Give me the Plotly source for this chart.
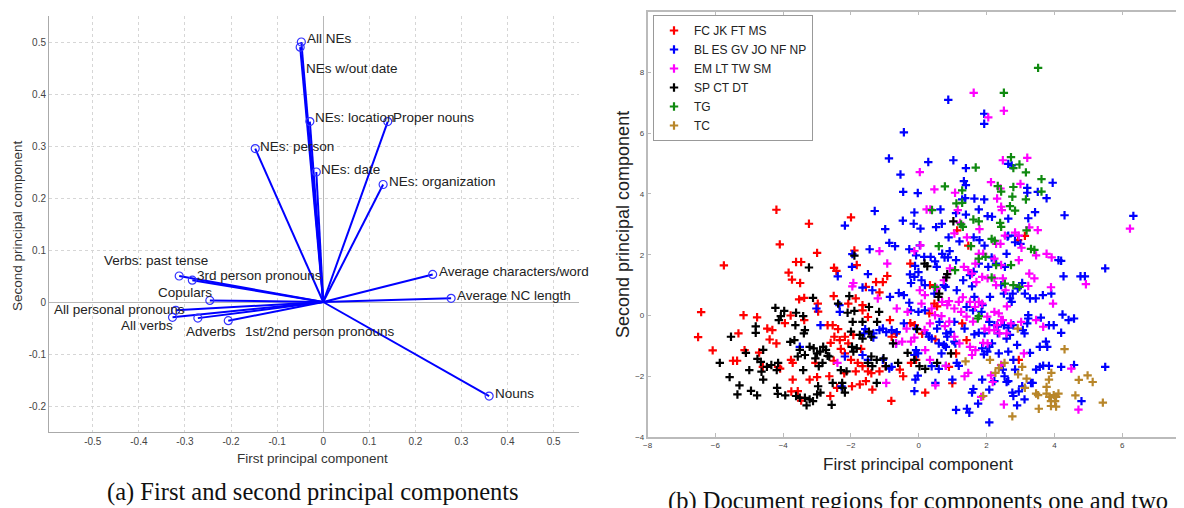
import plotly.graph_objects as go

# ---------------- Left panel: PCA loadings (biplot) ----------------
var_names = ["All NEs", "NEs w/out date", "NEs: location", "Proper nouns", "NEs: person",
             "NEs: date", "NEs: organization", "Average characters/word", "Average NC length",
             "Nouns", "Verbs: past tense", "3rd person pronouns", "Copulars",
             "All personal pronouns", "All verbs", "Adverbs", "1st/2nd person pronouns"]
pc1 = [-0.0475, -0.050, -0.029, 0.140, -0.1475, -0.015, 0.130, 0.2375, 0.2775,
       0.360, -0.3125, -0.284, -0.246, -0.320, -0.327, -0.272, -0.206]
pc2 = [0.500, 0.490, 0.347, 0.347, 0.295, 0.250, 0.226, 0.053, 0.007,
       -0.181, 0.050, 0.042, 0.003, -0.016, -0.0295, -0.031, -0.036]

left_ticks = [-0.5, -0.4, -0.3, -0.2, -0.1, 0, 0.1, 0.2, 0.3, 0.4, 0.5]
left_ticktext = ["-0.5", "-0.4", "-0.3", "-0.2", "-0.1", "0", "0.1", "0.2", "0.3", "0.4", "0.5"]
left_yticks = [-0.2, -0.1, 0, 0.1, 0.2, 0.3, 0.4, 0.5]
left_yticktext = ["-0.2", "-0.1", "0", "0.1", "0.2", "0.3", "0.4", "0.5"]

# label placement (style): anchor, x shift, y shift in px
label_style = [("left", 4, 3), ("left", 4, -21), ("left", 3, 4), ("left", 3, 4), ("left", 3, 2),
               ("left", 3, 3), ("left", 4, 3), ("left", 4, 3), ("left", 4, 3),
               ("left", 4, 3), ("right", 31, 16), ("left", 3, 5), ("right", 4, 8),
               ("right", 11, 1), ("right", 2, -8), ("left", -14, -13), ("left", 15, -11)]

# ---------------- Right panel: document scores ----------------
red_pts = [(-4.2,3.48),(-3.24,3.02),(-2.0,3.23),(-4.1,2.34),(-3.0,2.06),(-5.75,1.65),(-1.9,2.14),
 (-3.62,1.76),(-3.47,1.76),(-3.84,1.41),(-3.74,1.18),(-3.5,1.07),(-2.5,1.57),(-2.43,1.47),(-1.83,1.66),
 (-6.42,0.11),(-6.51,-0.71),(-6.08,-1.15),(-5.17,0.01),(-4.77,-0.06),(-5.32,-0.59),(-5.14,-1.14),
 (-5.48,-1.49),(-5.36,-1.49),(-4.6,-1.69),(-4.47,-0.43),(-4.32,-0.48),(-4.4,-0.79),(-4.2,-0.92),
 (-4.71,-1.22),(-4.15,-1.69),(-4.09,-1.75),(-3.78,0.0),(-3.95,-0.25),(-3.77,-1.46),(-3.72,-1.56),
 (-3.72,-2.11),(-3.76,-2.5),(-3.57,-2.49),(-3.47,-2.8),(-3.22,-2.11),(-3.05,-1.56),(-3.0,-2.03),
 (-2.64,-2.0),(-2.51,-1.49),(-2.61,-2.65),(-2.41,-2.38),(-3.53,0.53),(-3.38,0.58),(-2.98,0.39),
 (-2.51,0.64),(-2.97,0.13),(-3.38,-0.15),(-2.69,-0.32),(-2.54,-0.32),(-2.38,-0.45),(-2.49,-0.7),
 (-2.33,-0.81),(-2.18,-0.7),(-2.08,-0.92),(-1.93,-0.64),(-2.18,-1.25),(-2.0,-1.46),(-1.8,-1.56),
 (-1.86,-1.84),(-1.66,-1.67),(-1.5,-1.84),(-1.56,-2.16),(-1.37,-2.44),(-1.74,-2.27),(-1.97,-2.33),
 (-1.16,-1.84),(-0.98,-1.67),(-1.86,0.56),(-1.66,0.34),(-1.66,0.17),(-1.5,-0.05),(-1.16,0.76),
 (-1.26,1.1),(-1.06,1.1),(-0.93,1.3),(-1.56,0.94),(-2.08,0.39),(-0.85,-0.15),(-0.8,-0.7),(-0.67,-0.6),
 (-0.56,-1.78),(-0.46,-2.0),(-0.81,-2.81),(-0.23,-1.56),(-0.08,-1.46),(-0.25,-0.25),(-0.12,-0.32),
 (0.1,-0.6),(0.19,-2.54),(0.31,0.07),(0.46,0.39),(0.54,0.3),(0.49,-0.79),(1.1,-1.25),(0.99,-2.23),
 (0.89,-1.69),(1.13,2.8),(1.46,2.3),(1.41,-0.81),(1.28,-0.26),(2.95,-1.46),(2.93,2.48),(3.13,2.62),
 (-0.25,1.71),(0.33,1.0),(-2.3,-1.1),(-2.6,-0.9),(-1.7,-1.1),(-1.4,-1.9),(-2.2,-1.9)]

blue_pts = [(-0.44,6.03),(0.87,7.1),(1.93,6.64),(1.93,6.31),(-0.88,5.17),(-0.54,4.64),(-0.46,4.07),
 (0.28,5.05),(1.02,5.11),(1.39,4.85),(1.33,4.42),(1.39,4.29),(1.37,3.86),(1.28,3.82),(-1.3,3.44),
 (-2.18,2.96),(-0.99,2.84),(-0.47,3.12),(-0.13,3.39),(-0.03,4.03),(-0.15,3.02),(0.05,2.86),(0.51,2.91),
 (0.64,3.49),(0.68,3.02),(1.1,3.37),(1.39,3.32),(1.64,3.85),(1.93,3.82),(1.77,3.49),(2.03,3.27),
 (2.16,3.25),(2.64,3.19),(2.64,4.99),(2.74,4.94),(3.2,4.2),(3.2,4.04),(3.51,4.07),(3.95,4.37),
 (3.77,3.86),(3.43,3.4),(3.23,3.2),(4.3,3.3),(6.33,3.28),(5.5,1.55),(4.77,1.29),(4.9,1.29),(4.27,1.29),
 (4.12,1.82),(4.2,1.8),(3.45,0.56),(3.66,0.67),(3.91,0.72),(3.6,-0.07),(3.84,-0.32),(3.98,-0.32),
 (4.24,0.03),(4.42,-0.15),(4.58,-0.1),(4.2,-0.57),(3.75,-0.86),(3.79,-1.03),(3.57,-1.03),(3.28,-1.23),
 (3.46,-1.78),(3.57,-1.69),(3.67,-1.65),(3.84,-1.66),(4.2,-1.69),(4.58,-1.63),(5.5,-1.69),(4.8,-2.82),
 (3.31,-2.22),(3.12,-2.76),(3.05,-2.33),(2.95,-2.5),(2.9,-2.96),(2.79,-2.65),(2.76,-2.54),(2.64,-2.16),
 (2.53,-2.0),(2.48,-1.78),(2.79,-1.46),(2.84,-1.78),(2.64,-1.19),(2.59,-0.76),(2.36,-1.25),(2.23,-2.16),
 (2.08,-2.44),(1.87,-2.11),(1.75,-2.9),(2.08,-3.52),(1.49,-3.2),(1.42,-3.07),(1.1,-3.11),(1.61,-2.42),
 (1.57,-2.54),(0.99,-2.11),(0.49,-2.22),(0.59,-1.76),(0.8,-1.66),(1.18,-1.66),(1.12,-1.56),(-0.1,-2.11),
 (-0.13,-2.49),(-0.03,-1.98),(-0.87,-1.75),(-0.8,-1.69),(-1.06,-1.46),(-1.5,-1.46),(-1.66,-1.3),
 (-2.18,-1.35),(-2.28,-2.33),(-1.58,-0.45),(-1.34,-0.59),(-1.34,-0.73),(-1.06,-0.43),(-0.96,-0.55),
 (-0.65,-0.55),(-0.67,-0.92),(-0.44,-0.26),(-0.08,-0.43),(-0.13,-1.3),(-0.08,-1.14),(0.23,-0.59),
 (0.3,-0.7),(0.38,-0.76),(0.54,-0.43),(0.61,-0.21),(0.59,-0.92),(0.74,-0.97),(0.8,-1.03),(1.05,-0.86),
 (1.08,-0.92),(0.81,-0.59),(0.84,-0.7),(0.94,-0.54),(1.05,-0.21),(1.35,-0.43),(1.64,-0.62),(1.77,-0.57),
 (1.94,-0.59),(1.87,-1.08),(2.02,-1.19),(1.92,-1.28),(2.08,-1.03),(2.16,-0.92),(2.33,-0.37),(2.51,-0.32),
 (2.64,-0.4),(2.79,-0.32),(2.69,-0.64),(3.07,-0.48),(3.12,-0.59),(3.2,-0.26),(3.23,0.01),(3.23,-0.1),
 (2.74,0.45),(2.69,0.56),(2.77,0.72),(2.92,0.89),(3.05,1.07),(3.13,0.72),(3.28,0.56),(2.51,0.72),
 (2.43,1.0),(2.54,1.6),(2.59,2.03),(2.64,2.63),(2.84,2.63),(3.0,2.36),(2.84,2.41),(2.62,2.6),(2.28,1.71),
 (2.15,1.91),(2.05,1.6),(2.1,0.61),(1.88,0.34),(1.64,0.61),(1.57,0.96),(1.85,0.12),(1.6,0.17),(1.41,0.28),
 (1.12,0.83),(0.79,0.94),(0.74,1.0),(0.46,0.72),(0.18,1.0),(0.08,1.16),(-0.23,1.07),(-0.26,1.35),
 (-0.13,1.27),(-0.01,1.43),(-0.11,1.63),(-0.08,1.98),(-0.28,2.18),(0.03,2.31),(0.16,1.93),(0.35,1.93),
 (0.53,1.6),(0.76,1.91),(0.86,1.91),(1.1,1.82),(1.31,1.16),(1.51,1.33),(1.62,1.44),(1.77,1.71),(1.94,2.3),
 (1.79,2.48),(1.62,2.57),(1.2,2.44),(0.88,2.57),(0.69,2.03),(0.91,2.12),(0.48,1.78),(-0.87,2.39),
 (-0.7,2.28),(-1.45,2.18),(-1.97,1.6),(-1.96,2.02),(-2.39,1.29),(-1.5,1.36),(-1.66,0.92),(-1.37,0.83),
 (-0.85,0.61),(-0.59,0.74),(-0.44,0.67),(-0.28,0.42),(-0.23,0.17),(-0.01,0.12),(0.18,0.17),(-0.8,-0.48),
 (-1.16,-0.48),(-2.34,0.34),(-2.33,0.12),(-2.9,-0.32),(-3.02,0.23),(-3.51,-1.03),(-1.61,-0.59),
 (-0.02,-1.25),(0.67,-1.25),(0.38,-1.67),(2.59,-2.19),(3.36,-2.22),(2.9,-0.97),(2.08,-0.21),(2.23,-0.32),
 (2.33,-0.59)]

magenta_pts = [(1.62,7.33),(2.05,6.52),(2.51,6.74),(0.03,4.72),(2.48,5.11),(3.2,5.19),(0.46,4.15),
 (1.07,4.04),(2.13,4.39),(2.41,4.18),(3.0,4.33),(0.23,3.49),(0.34,3.49),(2.31,3.85),(2.43,3.58),
 (2.45,3.47),(1.22,3.05),(1.42,2.57),(1.79,2.84),(2.54,2.63),(2.28,2.36),(2.41,2.36),(2.95,2.63),
 (3.26,2.9),(3.51,2.81),(6.23,2.86),(3.03,2.23),(3.46,1.98),(3.77,2.03),(3.92,1.91),(3.41,1.22),
 (3.26,1.38),(3.23,0.97),(3.9,0.93),(3.96,0.39),(4.93,1.03),(2.95,1.82),(2.84,2.73),(2.23,1.87),
 (2.43,1.66),(2.23,1.22),(2.48,1.22),(2.56,0.83),(2.28,1.0),(2.03,1.22),(1.87,1.27),(1.7,1.1),(1.57,1.38),
 (1.46,1.49),(1.67,1.71),(1.77,2.03),(1.9,2.03),(1.33,1.6),(0.92,1.55),(0.74,1.16),(0.53,0.89),(0.18,0.67),
 (0.03,0.83),(0.08,0.39),(0.38,0.23),(0.69,0.45),(0.84,0.34),(0.89,0.47),(1.05,0.23),(1.18,0.45),
 (1.25,0.12),(1.41,-0.04),(1.51,0.45),(1.66,0.28),(1.77,0.45),(1.87,0.39),(2.02,-0.04),(2.23,0.12),
 (2.36,0.07),(2.43,-0.15),(2.31,-0.32),(2.23,-0.48),(2.08,-0.48),(1.94,-0.43),(2.38,-0.59),(2.48,-0.15),
 (2.03,-0.92),(1.67,-1.14),(1.51,-1.03),(1.57,-1.3),(1.2,-0.92),(1.05,-0.7),(0.77,-0.35),(0.67,-0.02),
 (0.48,0.01),(0.33,-0.26),(0.17,-0.48),(-0.13,-0.73),(-0.23,-0.86),(-0.36,-0.43),(-0.49,-0.86),
 (-0.67,-0.92),(0.19,-1.14),(0.33,-1.46),(0.49,-2.3),(0.8,-1.66),(1.35,-2.0),(1.46,-1.89),(1.84,-2.68),
 (2.51,-2.93),(2.43,-1.63),(2.13,-1.97),(2.18,-2.19),(3.1,-1.25),(3.02,-0.21),(3.46,-0.15),(3.67,-0.37),
 (4.5,-1.75),(4.71,-3.1),(-0.96,-2.22),(-2.4,-1.56),(-1.93,1.07),(-1.96,0.96),(-1.16,2.12),(-0.93,1.71),
 (-1.21,0.56),(-0.65,0.23),(-0.33,0.12),(0.05,2.31),(-0.13,2.12),(1.15,3.47),(1.05,2.7),(2.59,-0.59),
 (2.72,-0.26),(1.3,0.6),(1.6,-0.2),(2.6,0.3),(1.9,-0.9),(0.9,-0.2)]

black_pts = [(-3.24,1.58),(-1.9,1.97),(-5.87,-1.56),(-5.54,-0.7),(-5.58,-2.03),(-5.29,-2.3),(-5.35,-2.6),
 (-5.1,-1.23),(-5.0,-1.8),(-4.95,-2.48),(-4.77,-2.63),(-4.81,-0.36),(-4.81,-0.57),(-4.76,-1.43),
 (-4.66,-1.53),(-4.59,-1.13),(-4.64,-1.85),(-4.48,-1.69),(-4.35,-1.63),(-4.59,-2.11),(-4.23,0.25),
 (-4.07,-0.02),(-3.97,0.15),(-4.13,-0.15),(-4.15,-1.56),(-4.19,-1.8),(-4.18,-2.38),(-4.16,-2.58),
 (-3.94,-2.63),(-3.79,-0.87),(-3.67,-0.81),(-3.62,0.09),(-3.64,-0.32),(-3.41,-0.02),(-3.39,-0.59),
 (-3.36,-0.48),(-3.51,-1.13),(-3.57,-1.35),(-3.36,-1.3),(-3.41,-1.8),(-3.62,-2.65),(-3.51,-2.71),
 (-3.36,-2.71),(-3.22,-2.76),(-3.31,-2.96),(-3.12,-2.82),(-3.22,-1.03),(-3.12,0.58),(-3.1,-1.08),
 (-3.05,-1.41),(-3.0,-1.25),(-2.91,-1.19),(-2.82,-1.03),(-2.74,-1.13),(-2.69,-1.33),(-2.84,-1.56),
 (-2.95,-1.67),(-2.97,-2.33),(-2.9,-2.54),(-3.0,-2.6),(-2.64,-1.35),(-2.57,-2.94),(-2.54,-2.22),
 (-2.3,-1.8),(-2.26,-2.22),(-2.18,-2.54),(-2.25,-2.38),(-2.13,-1.84),(-2.38,0.39),(-2.1,0.09),
 (-2.05,0.64),(-1.9,0.15),(-1.95,-0.21),(-2.0,-0.53),(-1.97,-1.03),(-1.93,-1.19),(-1.74,-0.64),
 (-1.66,-0.76),(-1.83,-1.08),(-1.66,-0.21),(-1.47,0.28),(-1.47,-0.53),(-1.4,-0.7),(-1.4,-1.35),
 (-1.5,-1.56),(-1.37,-1.67),(-1.24,-1.46),(-1.24,-2.22),(-1.04,-1.41),(-1.23,-0.21),(-1.17,0.12),
 (-0.97,-1.67),(-0.76,-0.92),(-0.61,-1.56),(-0.33,-1.23),(-0.13,-1.46),(0.02,-1.67),(0.19,-1.76),
 (0.17,1.71),(0.25,1.62),(0.6,0.72),(0.58,0.61),(0.84,1.36),(0.81,1.25),(0.54,-1.56),(0.95,-1.25),
 (-0.05,-0.45),(1.02,3.1)]

green_pts = [(3.52,8.15),(2.51,7.33),(2.72,5.21),(2.79,4.85),(2.97,4.97),(3.16,4.71),(3.62,4.49),
 (3.62,4.08),(1.68,4.87),(0.77,4.25),(1.28,4.12),(2.33,4.26),(2.43,4.08),(2.79,4.23),(2.76,3.91),
 (3.16,3.82),(1.11,3.69),(1.28,3.71),(0.39,3.47),(1.61,3.16),(1.77,3.1),(1.25,3.0),(1.3,2.92),(2.4,3.05),
 (2.43,2.92),(2.69,3.6),(2.84,3.45),(3.18,2.8),(3.31,2.19),(3.41,2.16),(0.59,2.28),(1.54,2.28),
 (2.15,2.52),(2.24,2.46),(1.77,1.87),(1.97,1.93),(1.07,1.49),(2.28,1.66),(2.72,1.66),(2.15,1.25),
 (2.54,1.05),(2.79,1.0),(2.97,0.94),(0.48,0.94),(1.77,-0.02),(1.74,-0.1)]

tan_pts = [(2.92,-0.43),(4.3,-1.11),(1.38,-1.51),(2.1,-1.46),(2.53,-1.56),(2.36,-1.73),(2.26,-1.89),
 (3.05,-1.69),(2.93,-1.94),(3.18,-2.08),(3.91,-1.89),(3.84,-2.11),(3.77,-2.35),(3.13,-2.38),(3.52,-2.62),
 (3.46,-2.57),(3.77,-2.57),(3.85,-2.68),(3.98,-2.62),(4.05,-2.68),(4.12,-2.57),(3.9,-2.82),(4.02,-2.82),
 (3.9,-2.98),(4.05,-3.0),(3.54,-3.07),(4.62,-2.63),(4.72,-2.12),(4.98,-1.97),(5.13,-2.19),(5.43,-2.87),
 (1.9,-2.65),(2.76,-3.32)]

group_names = ["FC JK FT MS", "BL ES GV JO NF NP", "EM LT TW SM", "SP CT DT", "TG", "TC"]
group_points = [red_pts, blue_pts, magenta_pts, black_pts, green_pts, tan_pts]
group_colors = ["#FF0000", "#0000FF", "#FF00FF", "#000000", "#108A10", "#B8862A"]

right_xticks = [-8, -6, -4, -2, 0, 2, 4, 6, 8]
right_yticks = [-4, -2, 0, 2, 4, 6, 8, 10]

W, H = 1184, 508
OFF = 8  # page body margin offset (screen px)

def px_x(p):
    return (p - OFF) / W

def px_y(p):
    return 1 - (p - OFF) / H

fig = go.Figure()

# loadings: lines from origin
lx, ly = [], []
for x, y in zip(pc1, pc2):
    lx += [0, x, None]
    ly += [0, y, None]
fig.add_trace(go.Scatter(x=lx, y=ly, mode="lines", line=dict(color="#0000FF", width=2),
                         showlegend=False, hoverinfo="skip", xaxis="x", yaxis="y"))
fig.add_trace(go.Scatter(x=pc1, y=pc2, mode="markers", text=var_names,
                         marker=dict(symbol="circle-open", size=8, color="#3333FF", line=dict(width=1.2)),
                         showlegend=False, xaxis="x", yaxis="y"))

for name, x, y, (anc, dx, dy) in zip(var_names, pc1, pc2, label_style):
    fig.add_annotation(x=x, y=y, xref="x", yref="y", text=name, showarrow=False,
                       xanchor=anc, yanchor="middle", xshift=dx, yshift=dy,
                       font=dict(family="Liberation Sans, Arial", size=13.5, color="#222222"))

for name, pts, col in zip(group_names, group_points, group_colors):
    fig.add_trace(go.Scatter(x=[p[0] for p in pts], y=[p[1] for p in pts], mode="markers", name=name,
                             marker=dict(symbol="cross-thin", size=6, color=col,
                                         line=dict(color=col, width=2.2)),
                             xaxis="x2", yaxis="y2"))

fig.update_layout(
    template="none",
    width=W, height=H, margin=dict(l=0, r=0, t=0, b=0, autoexpand=False),
    paper_bgcolor="white", plot_bgcolor="white",
    font=dict(family="Liberation Sans, Arial", color="#333333"),
    xaxis=dict(domain=[px_x(49), px_x(579)], range=[-0.595, 0.555], tickvals=left_ticks,
               ticktext=left_ticktext, showgrid=True, gridcolor="#d6d6d6", griddash="dot", gridwidth=1,
               zeroline=True, zerolinecolor="#b8b8b8", zerolinewidth=1.2, automargin=False,
               showline=True, linecolor="#aaaaaa", linewidth=1, ticks="",
               tickfont=dict(size=10, color="#444444"), anchor="y"),
    yaxis=dict(domain=[px_y(432), px_y(16)], range=[-0.25, 0.55], tickvals=left_yticks,
               ticktext=left_yticktext, showgrid=True, gridcolor="#d6d6d6", griddash="dot", gridwidth=1,
               zeroline=True, zerolinecolor="#b8b8b8", zerolinewidth=1.2, automargin=False,
               showline=True, linecolor="#aaaaaa", linewidth=1, ticks="",
               tickfont=dict(size=10, color="#444444"), anchor="x"),
    xaxis2=dict(domain=[px_x(647.6), 1.0], range=[-8, 8.06], tickvals=right_xticks,
                showgrid=False, zeroline=False, showline=True, mirror="ticks", linecolor="#bbbbbb",
                linewidth=1.5, ticks="inside", ticklen=4, tickcolor="#bbbbbb", automargin=False,
                tickfont=dict(size=8, color="#444444"), anchor="y2"),
    yaxis2=dict(domain=[px_y(437), px_y(11.7)], range=[-4, 10], tickvals=right_yticks,
                showgrid=False, zeroline=False, showline=True, mirror="ticks", linecolor="#bbbbbb",
                linewidth=1.5, ticks="inside", ticklen=4, tickcolor="#bbbbbb", automargin=False,
                tickfont=dict(size=8, color="#444444"), anchor="x2"),
    legend=dict(x=px_x(653), y=px_y(15), xanchor="left", yanchor="top", bgcolor="white",
                bordercolor="#999999", borderwidth=1, font=dict(size=12, color="#222222"),
                tracegroupgap=0, itemwidth=30),
)

# axis titles and captions
def add_text(x, y, text, size, angle=0, family="Liberation Sans, Arial", color="#333333"):
    fig.add_annotation(x=px_x(x), y=px_y(y), xref="paper", yref="paper", text=text,
                       showarrow=False, textangle=angle, xanchor="center", yanchor="middle",
                       font=dict(family=family, size=size, color=color))

add_text(312, 458, "First principal component", 13.5)
add_text(17, 226, "Second principal component", 13.5, angle=-90)
add_text(918, 464, "First principal component", 17, color="#222222")
add_text(623, 225, "Second principal component", 18, angle=-90, color="#222222")
add_text(313, 492, "(a) First and second principal components", 24.5,
         family="Liberation Serif, Times New Roman", color="#111111")
add_text(918, 501, "(b) Document regions for components one and two", 24.5,
         family="Liberation Serif, Times New Roman", color="#111111")

fig.write_html("out.html")
